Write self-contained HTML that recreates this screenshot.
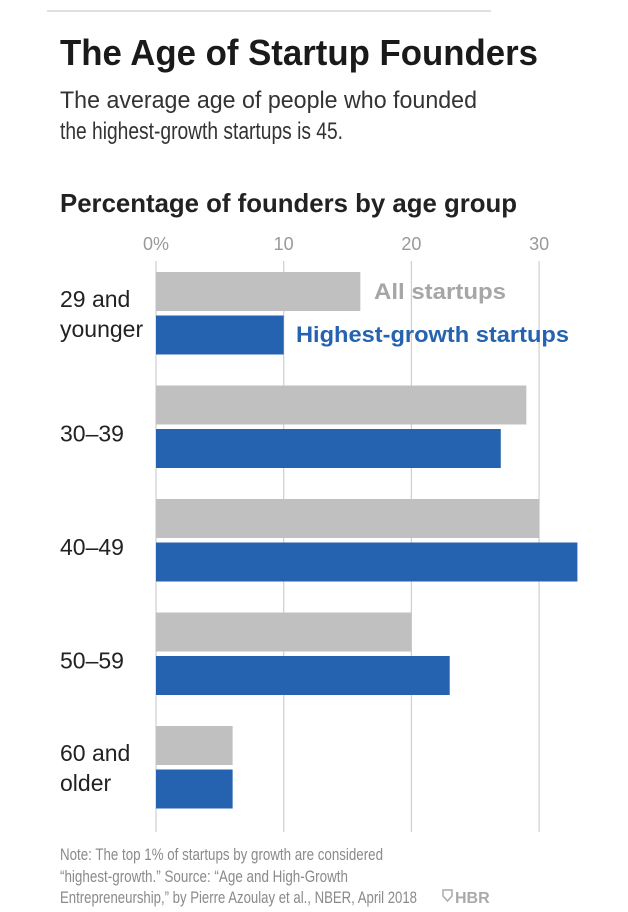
<!DOCTYPE html>
<html><head><meta charset="utf-8"><style>
html,body{margin:0;padding:0;background:#fff;}
svg{display:block;font-family:"Liberation Sans",sans-serif;}
</style></head><body>
<svg id="chart" width="628" height="912" viewBox="0 0 628 912">
<line x1="47" y1="11" x2="491" y2="11" stroke="#d6d6d6" stroke-width="1.5"/>
<text x="60" y="65" font-size="36" font-weight="bold" fill="#1a1a1a" textLength="478" lengthAdjust="spacingAndGlyphs">The Age of Startup Founders</text>
<text x="60" y="108" font-size="24" fill="#333" textLength="417" lengthAdjust="spacingAndGlyphs">The average age of people who founded</text>
<text x="60" y="139" font-size="24" fill="#333" textLength="283" lengthAdjust="spacingAndGlyphs">the highest-growth startups is 45.</text>
<text x="60" y="212" font-size="26" font-weight="bold" fill="#222" textLength="457" lengthAdjust="spacingAndGlyphs">Percentage of founders by age group</text>
<g id="grid"></g>
<g id="bars"></g>
<g id="labels"></g>
<text x="374" y="299" font-size="22" font-weight="bold" fill="#a6a6a6" textLength="132" lengthAdjust="spacingAndGlyphs">All startups</text>
<text x="296" y="342" font-size="22" font-weight="bold" fill="#2563b0" textLength="273" lengthAdjust="spacingAndGlyphs">Highest-growth startups</text>
<text x="60" y="860" font-size="17" fill="#8a8a8a" textLength="323" lengthAdjust="spacingAndGlyphs">Note: The top 1% of startups by growth are considered</text>
<text x="60" y="882" font-size="17" fill="#8a8a8a" textLength="288" lengthAdjust="spacingAndGlyphs">“highest-growth.” Source: “Age and High-Growth</text>
<text x="60" y="903" font-size="17" fill="#8a8a8a" textLength="357" lengthAdjust="spacingAndGlyphs">Entrepreneurship,” by Pierre Azoulay et al., NBER, April 2018</text>
<g>
<path d="M443 890 h9 v6 l-4.5 5 l-4.5 -5 z" fill="none" stroke="#aaa" stroke-width="1.5"/>
<text x="455" y="903" font-size="16" font-weight="bold" fill="#aaa">HBR</text>
</g>
</svg>
<script>
const categories = ["29 and younger","30–39","40–49","50–59","60 and older"];
const labelLines = [["29 and","younger"],["30–39"],["40–49"],["50–59"],["60 and","older"]];
const allStartups = [16,29,30,20,6];
const highestGrowth = [10,27,33,23,6];
const ticks = [0,10,20,30];
const tickLabels = ["0%","10","20","30"];

const NS="http://www.w3.org/2000/svg";
const x0=156, pxPer=12.77;
function xScale(v){return x0+v*pxPer;}
const groupTop=272, groupStep=113.5, barH=39, blueOff=43.5;
function yGroup(i){return groupTop+i*groupStep;}
function mk(tag,attrs,parent){const e=document.createElementNS(NS,tag);for(const k in attrs)e.setAttribute(k,attrs[k]);parent.appendChild(e);return e;}
const grid=document.getElementById('grid'),bars=document.getElementById('bars'),labels=document.getElementById('labels');
ticks.forEach((t,i)=>{
  const l=mk('line',{x1:xScale(t),x2:xScale(t),y1:261,y2:832,stroke:'#cfcfcf','stroke-width':1.2},grid);
  
  
  const tx=mk('text',{x:xScale(t),y:250,'font-size':18,fill:'#999','text-anchor':'middle'},grid);
  tx.textContent=tickLabels[i];
  
  
});
categories.forEach((c,i)=>{
  const y=yGroup(i);
  const g=mk('rect',{x:x0,y:y,width:xScale(allStartups[i])-x0,height:barH,fill:'#c0c0c0'},bars);
  
  
  const b=mk('rect',{x:x0,y:y+blueOff,width:xScale(highestGrowth[i])-x0,height:barH,fill:'#2563b0'},bars);
  
  
  const lines=labelLines[i];
  const mid=y+barH+2;
  lines.forEach((ln,j)=>{
    const yy = lines.length===1 ? mid+15 : mid-6+j*30;
    const t=mk('text',{x:60,y:yy,'font-size':23,fill:'#222'},labels);
    t.textContent=ln;
    
    
  });
});
</script>
</body></html>
